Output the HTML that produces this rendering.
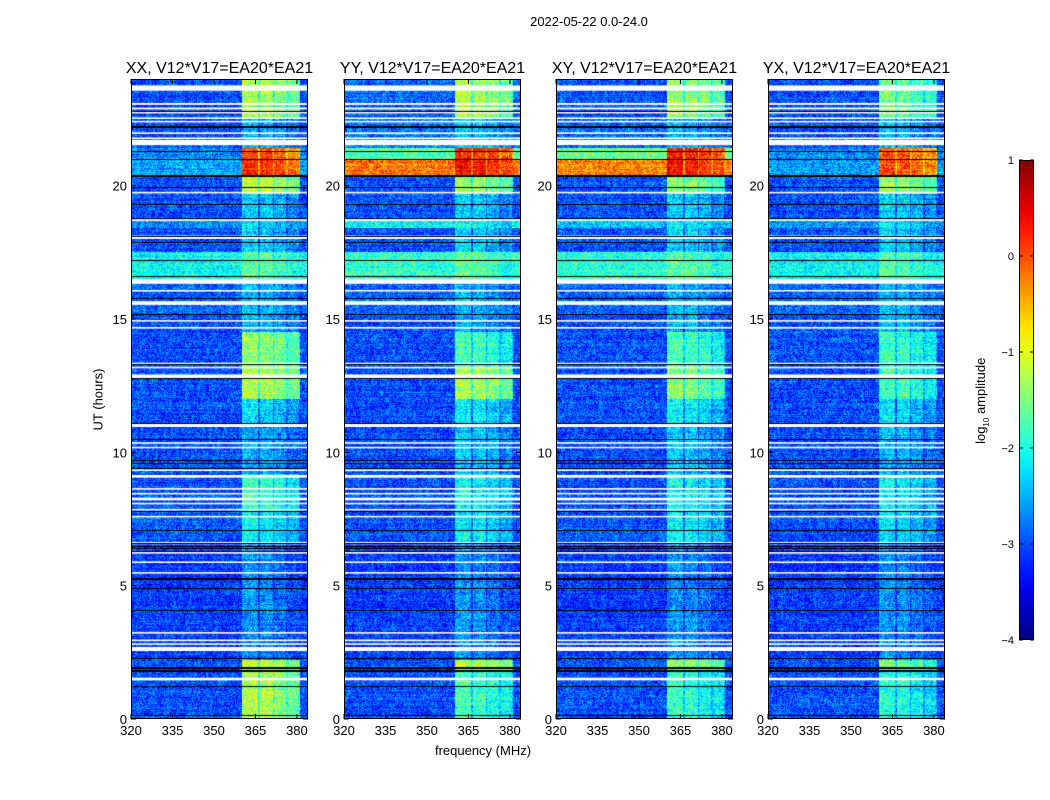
<!DOCTYPE html>
<html><head><meta charset="utf-8">
<style>
body{margin:0;background:#fff;width:1050px;height:800px;position:relative;overflow:hidden;font-family:"Liberation Sans",sans-serif;color:#000}
.t{position:absolute;white-space:nowrap}
canvas{position:absolute}
</style></head>
<body>
<div class="t" style="left:489px;top:14px;width:200px;text-align:center;font-size:13px">2022-05-22 0.0-24.0</div>
<div class="t" style="left:383px;top:743px;width:200px;text-align:center;font-size:13px">frequency (MHz)</div>
<div class="t" style="left:48px;top:392px;width:100px;text-align:center;font-size:13px;transform:rotate(-90deg)">UT (hours)</div>
<div class="t" style="left:922px;top:392px;width:120px;text-align:center;font-size:13px;transform:rotate(-90deg)">log<sub style="font-size:8px">10</sub> amplitude</div>
<svg id="ov" width="1050" height="800" style="position:absolute;left:0;top:0"></svg>
<script>
const panelTitles=["XX, V12*V17=EA20*EA21","YY, V12*V17=EA20*EA21","XY, V12*V17=EA20*EA21","YX, V12*V17=EA20*EA21"];
const panelLeft=[131,344,556,768];
const xTicks=[320,335,350,365,380];
const yTicks=[0,5,10,15,20];
const cbTicks=[1,0,-1,-2,-3,-4];
// segments: [h0,h1, offBandLevel, inBandLevel] (log10 amplitude)
const segXX=[[22.5,24,-3.0,-1.3],[21.4,22.5,-3.0,-2.5],[21.0,21.4,-2.7,0.0],[20.4,21.0,-2.6,0.1],[19.7,20.4,-3.0,-1.2],[18.8,19.7,-3.0,-2.4],[18.4,18.8,-2.6,-2.3],[17.5,18.4,-3.0,-2.4],[16.5,17.5,-2.1,-1.7],[15.2,16.5,-2.9,-2.5],[14.5,15.2,-3.0,-2.5],[13.2,14.5,-3.0,-1.4],[12.0,13.2,-3.0,-1.3],[11.0,12.0,-3.0,-2.3],[9.2,11.0,-3.0,-2.6],[7.8,9.2,-3.0,-1.9],[6.6,7.8,-3.0,-2.2],[2.2,6.6,-3.1,-2.7],[1.8,2.2,-3.0,-1.2],[0,1.8,-3.0,-1.3]];
const segYY=[[22.5,24,-2.9,-1.3],[21.4,22.5,-2.8,-2.4],[21.0,21.4,-1.7,0.2],[20.4,21.0,-0.2,0.3],[19.7,20.4,-3.0,-1.4],[18.8,19.7,-3.0,-2.4],[18.4,18.8,-2.1,-2.1],[17.5,18.4,-3.0,-2.4],[16.5,17.5,-1.9,-1.7],[15.2,16.5,-2.9,-2.5],[14.5,15.2,-3.0,-2.5],[13.2,14.5,-3.0,-1.8],[12.0,13.2,-3.0,-1.3],[11.0,12.0,-3.0,-2.2],[9.2,11.0,-3.0,-2.4],[7.8,9.2,-3.0,-2.1],[6.6,7.8,-3.0,-2.2],[2.2,6.6,-3.1,-2.7],[1.8,2.2,-3.0,-1.2],[0,1.8,-3.0,-1.8]];
const segXY=[[22.5,24,-3.0,-1.4],[21.4,22.5,-2.9,-2.5],[21.0,21.4,-1.6,0.2],[20.4,21.0,-0.3,0.3],[19.7,20.4,-3.0,-1.5],[18.8,19.7,-3.0,-2.4],[18.4,18.8,-2.4,-2.2],[17.5,18.4,-3.0,-2.4],[16.5,17.5,-1.9,-1.7],[15.2,16.5,-2.9,-2.5],[14.5,15.2,-3.0,-2.5],[13.2,14.5,-3.0,-1.8],[12.0,13.2,-3.0,-1.5],[11.0,12.0,-3.0,-2.2],[9.2,11.0,-3.0,-2.4],[7.8,9.2,-3.0,-2.1],[6.6,7.8,-3.0,-2.2],[2.2,6.6,-3.1,-2.7],[1.8,2.2,-3.0,-1.5],[0,1.8,-3.0,-1.9]];
const segYX=[[22.5,24,-3.0,-1.6],[21.4,22.5,-3.0,-2.5],[21.0,21.4,-2.7,-0.1],[20.4,21.0,-2.6,0.0],[19.7,20.4,-3.0,-1.4],[18.8,19.7,-3.0,-2.4],[18.4,18.8,-2.6,-2.2],[17.5,18.4,-3.0,-2.4],[16.5,17.5,-2.1,-1.7],[15.2,16.5,-2.9,-2.5],[14.5,15.2,-3.0,-2.5],[13.2,14.5,-3.0,-1.9],[12.0,13.2,-3.0,-1.8],[11.0,12.0,-3.0,-2.3],[9.2,11.0,-3.0,-2.5],[7.8,9.2,-3.0,-2.2],[6.6,7.8,-3.0,-2.3],[2.2,6.6,-3.1,-2.7],[1.8,2.2,-3.0,-1.6],[0,1.8,-3.0,-2.0]];
const panelSegs=[segXX,segYY,segXY,segYX];
// sub-bands [f0,f1,gain]
const bandF0=[360.3,366.8,371.8,376.8];
const bandF1=[366.0,371.2,376.2,380.6];
const bandGain=[0.05,0,-0.15,-0.3];
// flagged (white) gaps [h0,h1] and black lines (hours)
const whiteH0=[23.56,23.03,22.86,22.71,22.5,22.37,21.94,21.75,21.52,19.71,18.68,18.0,16.32,16.03,15.53,14.9,14.64,13.3,13.15,12.75,10.95,10.32,10.15,9.3,9.05,8.6,8.42,8.2,8.05,7.82,7.56,6.55,6.2,5.85,5.45,3.2,2.92,2.78,2.55,1.45];
const whiteH1=[23.76,23.1,22.93,22.77,22.56,22.43,22.0,21.81,21.72,19.77,18.74,18.13,16.5,16.09,15.67,14.96,14.7,13.36,13.21,12.92,11.1,10.38,10.21,9.36,9.15,8.66,8.48,8.3,8.11,7.88,7.62,6.64,6.26,5.91,5.51,3.26,2.98,2.84,2.7,1.55];
const blackH=[22.8,22.2,22.25,21.3,21.0,20.4,20.35,19.95,19.3,18.8,18.1,17.9,17.2,16.6,15.8,15.2,13.3,12.8,11.1,10.5,9.7,9.6,9.4,7.8,7.1,6.6,6.5,6.4,6.3,5.3,5.25,4.9,4.1,2.3,1.95,1.9,1.85,1.8,1.25,0.15];

const T=79,H=640,W=177,F0=320,F1=384,H1=24;
function yOf(h){return T+(H1-h)/H1*H;}
function jet(v){let t=(v+4)/5;t=Math.max(0,Math.min(1,t));
 const r=Math.max(0,Math.min(1,1.5-Math.abs(4*t-3))),g=Math.max(0,Math.min(1,1.5-Math.abs(4*t-2))),b=Math.max(0,Math.min(1,1.5-Math.abs(4*t-1)));
 return [r*255,g*255,b*255];}
function hash(a,b){let n=(a*374761393+b*668265263)|0;n=(n^(n>>>13))*1274126177|0;return ((n^(n>>>16))>>>0)/4294967296;}
const NS="http://www.w3.org/2000/svg";
const ov=document.getElementById('ov');
function sv(tag,at,txt){const e=document.createElementNS(NS,tag);for(const k in at)e.setAttribute(k,at[k]);if(txt!=null)e.textContent=txt;ov.appendChild(e);return e;}

panelLeft.forEach((L,p)=>{
 const c=document.createElement('canvas');c.width=W;c.height=H;c.style.left=L+'px';c.style.top=T+'px';
 
 
 document.body.insertBefore(c,ov);
 const ctx=c.getContext('2d');const img=ctx.createImageData(W,H);const segs=panelSegs[p];
 for(let y=0;y<H;y++){const h=H1-(y+0.5)/H*H1;
  let s=segs.find(q=>h>=q[0]&&h<q[1])||segs[segs.length-1];
  for(let x=0;x<W;x++){const f=F0+(x+0.5)/W*(F1-F0);
   let v=s[2];let inb=false;
   for(let b=0;b<4;b++)if(f>=bandF0[b]&&f<bandF1[b]){v=s[3]+bandGain[b];inb=true;}
   if(!inb&&f>=360&&f<381)v=Math.max(s[2],s[3]-0.6);
   const nz=(hash(x+p*1000,y)-0.5)*0.9+(hash(y,p+7)-0.5)*0.25+(hash(Math.floor(x/3),Math.floor(y/6)+p*99)-0.5)*0.3;v+=nz;
   const col=jet(v);const i=(y*W+x)*4;img.data[i]=col[0];img.data[i+1]=col[1];img.data[i+2]=col[2];img.data[i+3]=255;}}
 ctx.putImageData(img,0,0);
 whiteH0.forEach((h0,k)=>{ctx.fillStyle='#fff';const y0=(H1-whiteH1[k])/H1*H,y1=(H1-h0)/H1*H;ctx.fillRect(0,y0,W,Math.max(1.5,y1-y0));});
 blackH.forEach(h=>{ctx.fillStyle='#000';ctx.fillRect(0,Math.round((H1-h)/H1*H),W,1);});
 const r=sv('rect',{x:L+0.5,y:T+0.5,width:W-1,height:H-1,fill:'none',stroke:'#000','stroke-width':1});
 
 const tt=sv('text',{x:L+W/2,y:T-6,'text-anchor':'middle','font-size':16,'font-family':'Liberation Sans, sans-serif'},panelTitles[p]);
 
 xTicks.forEach(v=>{const x=L+(v-F0)/(F1-F0)*W;
  sv('line',{x1:x,x2:x,y1:T,y2:T+5,stroke:'#000'});sv('line',{x1:x,x2:x,y1:T+H,y2:T+H-5,stroke:'#000'});
  const e=sv('text',{x:x,y:T+H+16,'text-anchor':'middle','font-size':13,'font-family':'Liberation Sans, sans-serif'},v);
  });
 yTicks.forEach(v=>{const y=yOf(v);
  sv('line',{x1:L,x2:L+5,y1:y,y2:y,stroke:'#000'});sv('line',{x1:L+W,x2:L+W-5,y1:y,y2:y,stroke:'#000'});
  const e=sv('text',{x:L-4,y:y+5,'text-anchor':'end','font-size':13,'font-family':'Liberation Sans, sans-serif'},v);
  });
});
const CBX=1019,CBY=160,CBW=15,CBH=480;
const defs=sv('defs',{});const lg=document.createElementNS(NS,'linearGradient');lg.setAttribute('id','jg');lg.setAttribute('x1','0');lg.setAttribute('y1','1');lg.setAttribute('x2','0');lg.setAttribute('y2','0');defs.appendChild(lg);
for(let i=0;i<=20;i++){const v=-4+5*i/20;const c=jet(v);const st=document.createElementNS(NS,'stop');st.setAttribute('offset',i/20);st.setAttribute('stop-color',`rgb(${c.map(Math.round).join(',')})`);lg.appendChild(st);}
const cb=sv('rect',{x:CBX+0.5,y:CBY+0.5,width:CBW-1,height:CBH-1,fill:'url(#jg)',stroke:'#000'});

cbTicks.forEach(v=>{const y=CBY+(1-v)/5*CBH;
 sv('line',{x1:CBX,x2:CBX+4,y1:y,y2:y,stroke:'#000'});sv('line',{x1:CBX+CBW,x2:CBX+CBW-4,y1:y,y2:y,stroke:'#000'});
 const e=sv('text',{x:CBX-5,y:y+4,'text-anchor':'end','font-size':11,'font-family':'Liberation Sans, sans-serif'},v<0?'\u2212'+(-v):v);
 });
</script>
</body></html>
